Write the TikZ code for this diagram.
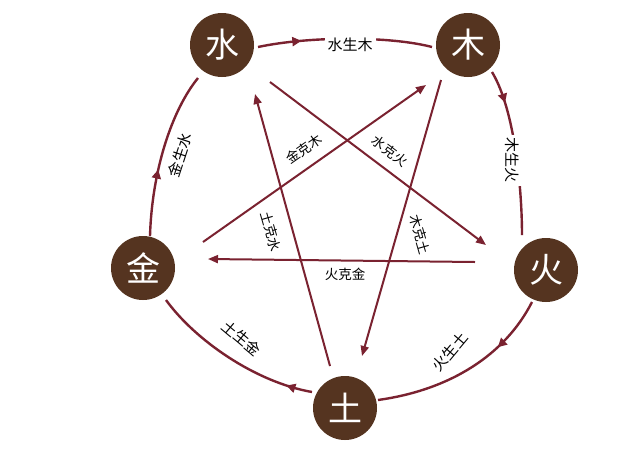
\documentclass[tikz,border=0pt]{standalone}
\usepackage{fontspec}
\setmainfont{Noto Sans CJK SC}
\usetikzlibrary{decorations.markings,arrows.meta}
\definecolor{brn}{HTML}{553420}
\definecolor{rd}{HTML}{7A2230}
\begin{document}
\begin{tikzpicture}[x=1pt,y=-1pt,
  el/.style={circle,fill=brn,minimum size=64pt,inner sep=0pt,text=white,font=\fontsize{34}{34}\selectfont},
  arcline/.style={draw=rd,line width=2.4pt,postaction={decorate},decoration={markings,mark=at position #1 with {\arrow{Triangle[length=9pt,width=9pt]}}}},
  star/.style={draw=rd,line width=2pt,-{Triangle[length=10pt,width=8pt]}},
  lab/.style={fill=white,inner sep=3pt,font=\fontsize{15}{15}\selectfont,text=black},
  slab/.style={inner sep=1pt,font=\fontsize{13.5}{13.5}\selectfont,text=black}]
\useasboundingbox[fill=white] (0,0) rectangle (640,464);
\node[el] (shui) at (222,45) {水};
\node[el] (mu) at (468,45) {木};
\node[el] (huo) at (546,270) {火};
\node[el] (tu) at (345,408) {土};
\node[el] (jin) at (143,268) {金};
% outer arcs
\path[arcline=0.25] (258,47) .. controls (310,36) and (390,36) .. (432,47);
\node[lab] at (350,45) {水生木};
\path[arcline=0.2] (492,72) .. controls (515,110) and (522,190) .. (522,235);
\node[lab,rotate=-90] at (512,160) {木生火};
\path[arcline=0.3] (532,302) .. controls (505,355) and (450,390) .. (378,400);
\node[lab,rotate=50] at (450,352) {火生土};
\path[arcline=0.15] (312,392) .. controls (255,382) and (195,340) .. (166,300);
\node[lab,rotate=-40] at (242,338) {土生金};
\path[arcline=0.4] (150,236) .. controls (152,170) and (172,110) .. (198,78);
\node[lab,rotate=72] at (180,155) {金生水};
% star
\coordinate (a1) at (270,82); \coordinate (a2) at (486,245);
\coordinate (b1) at (475,262); \coordinate (b2) at (208,259);
\coordinate (c1) at (203,242); \coordinate (c2) at (426,85);
\coordinate (d1) at (441,80); \coordinate (d2) at (362,356);
\coordinate (e1) at (330,366); \coordinate (e2) at (255,94);
\draw[star] (a1) -- (a2);
\draw[star] (b1) -- (b2);
\draw[star] (c1) -- (c2);
\draw[star] (d1) -- (d2);
\draw[star] (e1) -- (e2);
\node[slab,rotate=-37] at (390,151) {水克火};
\node[slab] at (345,274) {火克金};
\node[slab,rotate=35] at (304,149) {金克木};
\node[slab,rotate=-74] at (420,235) {木克土};
\node[slab,rotate=-74] at (271,232) {土克水};
\end{tikzpicture}
\end{document}
